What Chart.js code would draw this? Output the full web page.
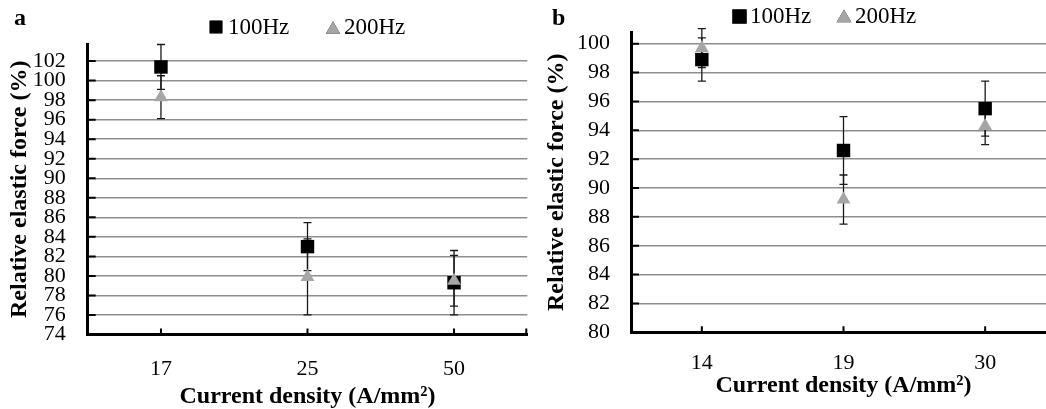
<!DOCTYPE html>
<html>
<head>
<meta charset="UTF-8">
<title>Relative elastic force vs current density</title>
<script src="https://cdn.jsdelivr.net/npm/chart.js@4"></script>
<style>
  html, body { margin: 0; padding: 0; background: #fff; overflow: hidden; width: 1046px; height: 409px; }
  canvas { position: absolute; top: 0; }
  #chartA { left: 0; }
  #chartB { left: 530px; }
</style>
</head>
<body>
<canvas id="chartA" width="530" height="409"></canvas>
<canvas id="chartB" width="560" height="409"></canvas>
<script>
// ---- panel a ----
const densityA = ['17', '25', '50'];
const force100A = [101.4, 83.0, 79.3];
const err100A = [2.3, 2.45, 3.3];
const force200A = [98.3, 79.9, 79.5];
const err200A = [2.2, 3.9, 2.6];
const ticksA = [74, 76, 78, 80, 82, 84, 86, 88, 90, 92, 94, 96, 98, 100, 102];

// ---- panel b ----
const densityB = ['14', '19', '30'];
const force100B = [98.9, 92.6, 95.5];
const err100B = [1.5, 2.35, 1.9];
const force200B = [99.7, 89.2, 94.3];
const err200B = [1.35, 1.7, 1.3];
const ticksB = [80, 82, 84, 86, 88, 90, 92, 94, 96, 98, 100];

const seriesNames = ['100Hz', '200Hz'];
const seriesColors = ['#000000', '#a6a6a6'];
const seriesShapes = ['rect', 'triangle'];

const SERIF = '"Liberation Serif", "Times New Roman", serif';

// vertical error bars with caps, drawn under the markers
const errorBars = {
  id: 'errorBars',
  beforeDatasetsDraw(chart) {
    const { ctx, scales: { x, y } } = chart;
    ctx.save();
    ctx.strokeStyle = '#1a1a1a';
    ctx.lineWidth = 1.3;
    chart.data.datasets.forEach(ds => {
      ds.errors.forEach((e, i) => {
        const px = x.getPixelForValue(i);
        const top = y.getPixelForValue(ds.data[i] + e);
        const bot = y.getPixelForValue(ds.data[i] - e);
        ctx.beginPath();
        ctx.moveTo(px, top); ctx.lineTo(px, bot);
        ctx.moveTo(px - 4, top); ctx.lineTo(px + 4, top);
        ctx.moveTo(px - 4, bot); ctx.lineTo(px + 4, bot);
        ctx.stroke();
      });
    });
    ctx.restore();
  }
};

// short tick marks pointing into the plot area
const innerTicks = {
  id: 'innerTicks',
  beforeDatasetsDraw(chart) {
    const { ctx, chartArea: ca, scales: { x, y } } = chart;
    ctx.save();
    ctx.strokeStyle = '#000';
    ctx.lineWidth = 2;
    ctx.beginPath();
    y.ticks.forEach(t => {
      const py = y.getPixelForValue(t.value);
      ctx.moveTo(ca.left, py); ctx.lineTo(ca.left + 8, py);
    });
    const xs = x.ticks.map((t, i) => x.getPixelForTick(i)).concat([ca.right - 1]);
    xs.forEach(px => { ctx.moveTo(px, ca.bottom); ctx.lineTo(px, ca.bottom - 6); });
    ctx.stroke();
    ctx.restore();
  }
};

// panel letter and the series key above the plot
const panelText = {
  id: 'panelText',
  afterDraw(chart, args, opts) {
    const { ctx } = chart;
    ctx.save();
    ctx.fillStyle = '#000';
    ctx.textBaseline = 'alphabetic';
    ctx.font = 'bold 24px ' + SERIF;
    ctx.fillText(opts.letter, opts.letterX, opts.letterY);
    ctx.font = '23px ' + SERIF;
    ctx.textBaseline = 'middle';
    seriesNames.forEach((name, i) => {
      const k = opts.keys[i];
      Chart.helpers.drawPoint(ctx, {
        pointStyle: seriesShapes[i], radius: k.r, rotation: 0, borderWidth: 0
      }, k.x, k.y);
      ctx.fillStyle = seriesColors[i];
      ctx.fill();
      ctx.fillStyle = '#000';
      ctx.fillText(name, k.tx, opts.textY);
    });
    ctx.restore();
  }
};

function makeChart(id, cfg) {
  return new Chart(document.getElementById(id), {
    type: 'line',
    data: {
      labels: cfg.labels,
      datasets: [
        {
          label: seriesNames[0], data: cfg.v100, errors: cfg.e100, order: 1,
          showLine: false, clip: false,
          pointStyle: seriesShapes[0], pointRadius: 9.5, pointHoverRadius: 9.5,
          pointBackgroundColor: seriesColors[0], pointBorderWidth: 0
        },
        {
          label: seriesNames[1], data: cfg.v200, errors: cfg.e200, order: 0,
          showLine: false, clip: false,
          pointStyle: seriesShapes[1], pointRadius: 8, pointHoverRadius: 8,
          pointBackgroundColor: seriesColors[1], pointBorderWidth: 0
        }
      ]
    },
    options: {
      responsive: false,
      animation: false,
      events: [],
      layout: { autoPadding: false, padding: cfg.padding },
      plugins: {
        legend: { display: false },
        tooltip: { enabled: false },
        panelText: cfg.text
      },
      scales: {
        x: {
          type: 'category',
          offset: true,
          grid: { display: false },
          border: { color: '#000', width: 3 },
          ticks: { color: '#000', padding: cfg.xTickPad, font: { family: SERIF, size: 22, lineHeight: 1 } },
          title: {
            display: true, text: 'Current density (A/mm²)', color: '#000',
            font: { family: SERIF, size: 24, weight: 'bold', lineHeight: 1 },
            padding: { top: 0, bottom: cfg.xTitlePad }
          },
          afterFit(s) { s.height = cfg.xHeight; }
        },
        y: {
          min: cfg.min, max: cfg.max,
          afterBuildTicks(s) { s.ticks = cfg.ticks.map(v => ({ value: v })); },
          grid: {
            drawTicks: false, lineWidth: 1.5,
            color: c => (c.tick && c.tick.value === cfg.min) ? 'rgba(0,0,0,0)' : '#8e8e8e'
          },
          border: { color: '#000', width: 3 },
          ticks: { autoSkip: false, color: '#000', padding: cfg.yTickPad, font: { family: SERIF, size: 22, lineHeight: 1 } },
          title: {
            display: true, text: 'Relative elastic force (%)', color: '#000',
            font: { family: SERIF, size: 24, weight: 'bold', lineHeight: 1 },
            padding: { top: cfg.yTitlePad, bottom: 0 }
          },
          afterFit(s) { s.width = cfg.yWidth; }
        }
      }
    },
    plugins: [errorBars, innerTicks, panelText]
  });
}

makeChart('chartA', {
  labels: densityA, v100: force100A, e100: err100A, v200: force200A, e200: err200A,
  ticks: ticksA, min: 74, max: 103.75,
  padding: { left: 0, top: 44, right: 2.7, bottom: 0 },
  yWidth: 87.7, xHeight: 74.5, xTickPad: 16, yTickPad: 22, xTitlePad: 0, yTitlePad: 8,
  text: {
    letter: 'a', letterX: 14, letterY: 25, textY: 28,
    keys: [{ x: 216, y: 27, r: 9, tx: 228 }, { x: 333, y: 29.5, r: 8.3, tx: 344 }]
  }
});

makeChart('chartB', {
  labels: densityB, v100: force100B, e100: err100B, v200: force200B, e200: err200B,
  ticks: ticksB, min: 80, max: 100.79,
  padding: { left: 0, top: 32.3, right: 34, bottom: 0 },
  yWidth: 101, xHeight: 76.7, xTickPad: 12, yTickPad: 21, xTitlePad: 11, yTitlePad: 14.5,
  text: {
    letter: 'b', letterX: 22, letterY: 25, textY: 16.5,
    keys: [{ x: 209.5, y: 16.5, r: 10, tx: 220 }, { x: 314, y: 18, r: 8.5, tx: 325 }]
  }
});
</script>
</body>
</html>
